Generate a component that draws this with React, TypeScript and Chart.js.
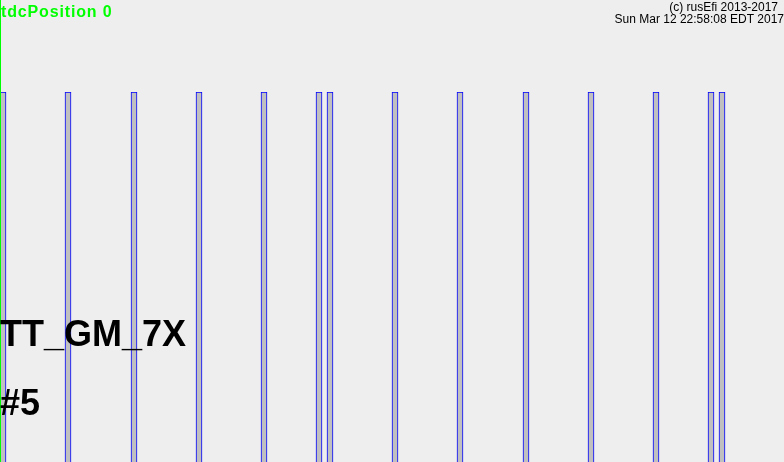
import React, { useEffect, useRef } from "react";
import { Chart, registerables } from "chart.js";

Chart.register(...registerables);

// ---- data ----
const triggerName = "TT_GM_7X";
const triggerIndexLabel = "#5";
const tdcLabel = "tdcPosition 0";
const copyrightLabel = "(c) rusEfi 2013-2017";
const dateLabel = "Sun Mar 12 22:58:08 EDT 2017";
const tdcAngle = 0;
const angleMin = 0;
const angleMax = 720;
// tooth rise / fall angles (degrees, two crank revolutions)
const toothRise = [0, 60, 120, 180, 240, 290, 300, 360, 420, 480, 540, 600, 650, 660];
const toothFall = [5.5, 65.5, 125.5, 185.5, 245.5, 295.5, 305.5, 365.5, 425.5, 485.5, 545.5, 605.5, 655.5, 665.5];
const waveLabels = ["wave"];

const FONT = "'Liberation Sans', Arial, sans-serif";

export default function App() {
  const canvasRef = useRef<HTMLCanvasElement | null>(null);

  useEffect(() => {
    document.body.style.margin = "0";
    const canvas = canvasRef.current;
    if (!canvas) return;

    const overlay = {
      id: "rusefiOverlay",
      beforeDraw(chart: any) {
        const ctx = chart.ctx;
        ctx.save();
        ctx.fillStyle = "#eeeeee";
        ctx.fillRect(0, 0, chart.width, chart.height);
        ctx.restore();
      },
      beforeDatasetsDraw(chart: any) {
        // snap bar edges to whole pixels for crisp outlines
        chart.data.datasets.forEach((_: any, i: number) => {
          const meta = chart.getDatasetMeta(i);
          meta.data.forEach((el: any) => {
            el.x = Math.round(el.x);
            el.base = Math.round(el.base);
            el.y = Math.round(el.y);
          });
        });
      },
      afterDraw(chart: any) {
        const ctx = chart.ctx;
        const xs = chart.scales.x;
        ctx.save();
        // tdc line
        const tx = Math.round(xs.getPixelForValue(tdcAngle));
        ctx.fillStyle = "#00ff00";
        ctx.fillRect(tx, 0, 1, chart.height);
        // texts
        ctx.textBaseline = "alphabetic";
        ctx.textAlign = "left";
        ctx.fillStyle = "#00ff00";
        ctx.font = `bold 16px ${FONT}`;
        (ctx as any).letterSpacing = "0.85px";
        ctx.fillText(tdcLabel, 1, 17);
        (ctx as any).letterSpacing = "0px";

        ctx.fillStyle = "#000000";
        ctx.font = `bold 36px ${FONT}`;
        ctx.fillText(triggerName, 0, 346);
        ctx.fillText(triggerIndexLabel, 0, 415);

        ctx.font = `12px ${FONT}`;
        ctx.textAlign = "right";
        ctx.fillText(copyrightLabel, 778, 11);
        ctx.fillText(dateLabel, 784, 23);
        ctx.restore();
      },
    };

    const datasets = toothRise.map((r, i) => ({
      label: "tooth " + (i + 1),
      data: [[r, toothFall[i]]] as any,
      backgroundColor: "#c0c0c0",
      borderColor: "#0000ff",
      borderWidth: 1,
      borderSkipped: false as any,
      grouped: false,
      barPercentage: 1,
      categoryPercentage: 1,
    }));

    const chart = new Chart(canvas, {
      type: "bar",
      data: { labels: waveLabels, datasets: datasets as any },
      options: {
        indexAxis: "y",
        responsive: false,
        animation: false,
        events: [],
        layout: { padding: { top: 92, left: 0, right: 0, bottom: 0 } },
        plugins: { legend: { display: false }, tooltip: { enabled: false }, title: { display: false } },
        scales: {
          x: { type: "linear", min: angleMin, max: angleMax, display: false },
          y: { type: "category", display: false },
        },
      },
      plugins: [overlay],
    });

    return () => chart.destroy();
  }, []);

  return (
    <div style={{ width: 784, height: 462, overflow: "hidden", background: "#eeeeee" }}>
      <canvas ref={canvasRef} width={784} height={472} style={{ display: "block" }} />
    </div>
  );
}
